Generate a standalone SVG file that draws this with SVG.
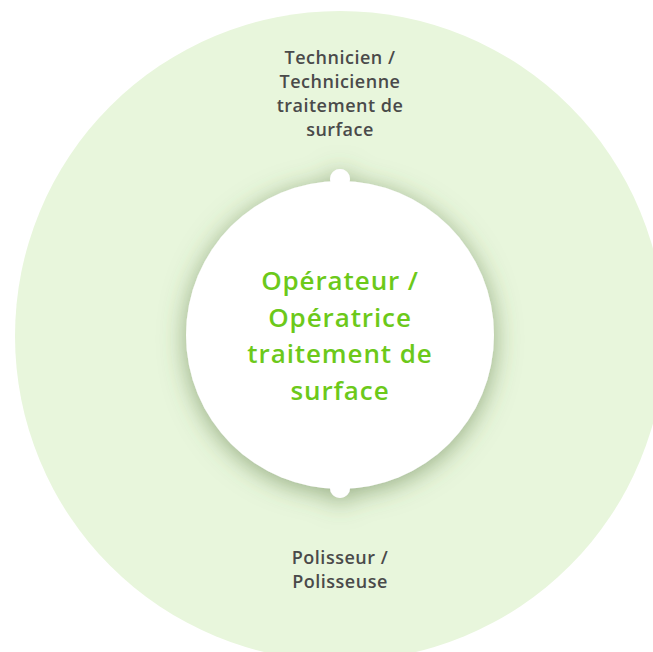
<svg xmlns="http://www.w3.org/2000/svg" width="653" height="652" viewBox="0 0 653 652">
<defs>
<style>
.outer{font-family:"Open Sans","Noto Sans",sans-serif;font-weight:600;font-size:18px;letter-spacing:0.5px;fill:#4a4a4a;text-anchor:middle}
.inner{font-family:"Open Sans","Noto Sans",sans-serif;font-weight:600;font-size:26px;letter-spacing:0.9px;fill:#6cc91a;text-anchor:middle}
</style>
<filter id="sh" x="-30%" y="-30%" width="160%" height="160%">
<feDropShadow dx="0" dy="4" stdDeviation="13" flood-color="#4f6e38" flood-opacity="0.55"/>
</filter>
</defs>
<rect width="653" height="652" fill="#ffffff"/>
<g id="outer-ring">
<circle cx="340" cy="336" r="325" fill="#e8f6dc"/>
</g>
<g id="connectors">
<circle cx="340" cy="179" r="10" fill="#ffffff"/>
<circle cx="340" cy="488" r="10" fill="#ffffff"/>
</g>
<g id="center-node">
<g filter="url(#sh)">
<circle cx="340" cy="335" r="154" fill="#ffffff"/>
<circle cx="340" cy="179" r="10" fill="#ffffff"/>
<circle cx="340" cy="488" r="10" fill="#ffffff"/>
</g>
<text class="inner" x="340" y="290">Opérateur /</text>
<text class="inner" x="340" y="327">Opératrice</text>
<text class="inner" x="340" y="363">traitement de</text>
<text class="inner" x="340" y="400">surface</text>
</g>
<g id="node-technicien">
<text class="outer" x="340" y="64">Technicien /</text>
<text class="outer" x="340" y="88">Technicienne</text>
<text class="outer" x="340" y="112">traitement de</text>
<text class="outer" x="340" y="136">surface</text>
</g>
<g id="node-polisseur">
<text class="outer" x="340" y="564">Polisseur /</text>
<text class="outer" x="340" y="588">Polisseuse</text>
</g>
</svg>
